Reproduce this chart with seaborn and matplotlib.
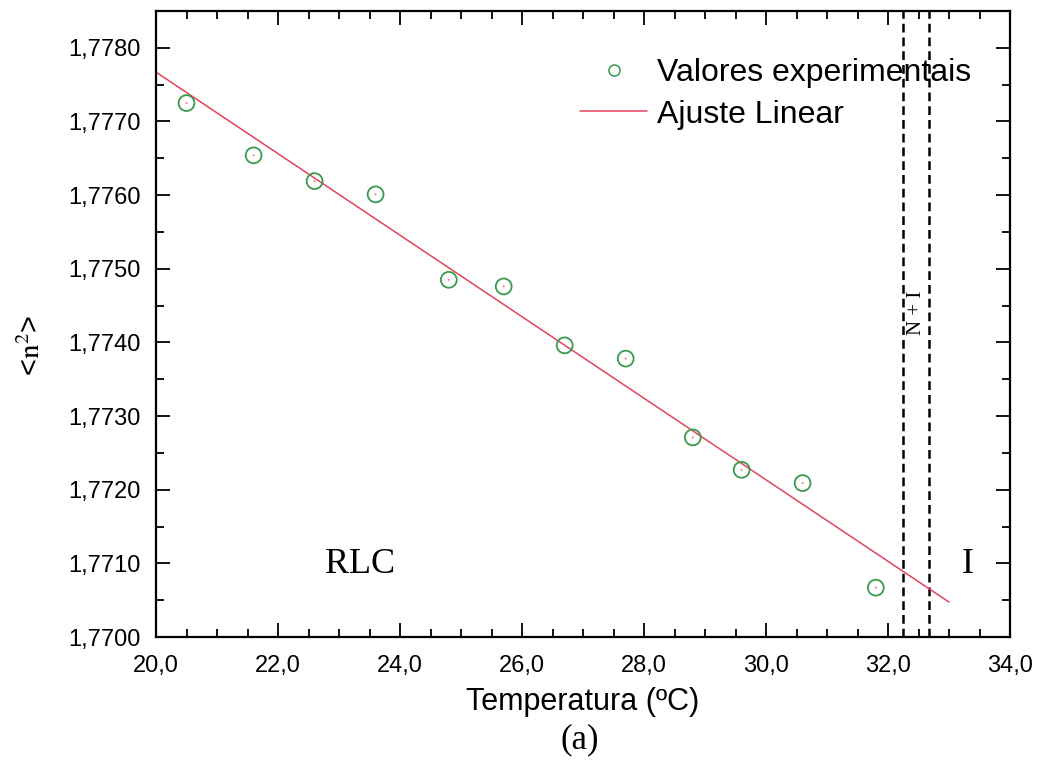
import numpy as np
import pandas as pd
import matplotlib
matplotlib.use("Agg")
import matplotlib.pyplot as plt
from matplotlib.ticker import FuncFormatter, MultipleLocator
from matplotlib.lines import Line2D
import seaborn as sns

# Measured mean squared refractive index vs temperature
temperatura = [20.5, 21.6, 22.6, 23.6, 24.8, 25.7, 26.7, 27.7, 28.8, 29.6, 30.6, 31.8]
n2_medio = [1.77725, 1.77654, 1.77619, 1.77601, 1.77485, 1.77476,
            1.77396, 1.77378, 1.77271, 1.77227, 1.77209, 1.77067]

# Phase-transition boundaries (N + I coexistence region)
transicoes = [32.25, 32.67]
ajuste_intervalo = [20.0, 33.0]

x_ticks = [20.0, 22.0, 24.0, 26.0, 28.0, 30.0, 32.0, 34.0]
y_ticks = [1.7700, 1.7710, 1.7720, 1.7730, 1.7740, 1.7750, 1.7760, 1.7770, 1.7780]

sns.set_style("ticks")
plt.rcParams["font.family"] = ["Liberation Sans", "DejaVu Sans"]
plt.rcParams["mathtext.fontset"] = "stix"
plt.rcParams["text.color"] = "black"
plt.rcParams["axes.labelcolor"] = "black"
plt.rcParams["xtick.color"] = "black"
plt.rcParams["ytick.color"] = "black"

df = pd.DataFrame({"T": temperatura, "n2": n2_medio})

# Linear fit of the experimental values
coef = np.polyfit(df["T"], df["n2"], 1)
x_fit = np.array(ajuste_intervalo)
fit_df = pd.DataFrame({"T": x_fit, "n2": np.polyval(coef, x_fit)})

fig = plt.figure(figsize=(10.4, 7.61), dpi=100)
ax = fig.add_axes([156 / 1040, 1 - 637 / 761, (1010 - 156) / 1040, (637 - 11) / 761])

verde = "#3a9a4e"
vermelho = "#e2445c"

sns.lineplot(data=fit_df, x="T", y="n2", ax=ax, color=vermelho, linewidth=1.1, zorder=2)
sns.scatterplot(data=df, x="T", y="n2", ax=ax, marker="o", s=130,
                facecolors="none", edgecolor=verde, linewidth=1.3, zorder=3)
sns.scatterplot(data=df, x="T", y="n2", ax=ax, marker="o", s=2,
                color="#e07a8a", edgecolor="none", zorder=4)

for xv in transicoes:
    ax.axvline(xv, color="black", linestyle=(0, (3.5, 2.0)), linewidth=1.8, zorder=1)

ax.set_xlim(20, 34)
ax.set_ylim(1.7700, 1.7785)
ax.set_xticks(x_ticks)
ax.set_yticks(y_ticks)
ax.xaxis.set_minor_locator(MultipleLocator(0.5))
ax.yaxis.set_minor_locator(MultipleLocator(0.0005))
ax.xaxis.set_major_formatter(FuncFormatter(lambda v, p: f"{v:.1f}".replace(".", ",")))
ax.yaxis.set_major_formatter(FuncFormatter(lambda v, p: f"{v:.4f}".replace(".", ",")))

ax.tick_params(which="both", direction="in", top=True, right=True, width=1.3, colors="black")
ax.tick_params(which="major", length=10, labelsize=17, pad=11)
ax.tick_params(which="minor", length=6)
ax.tick_params(axis="x", which="major", pad=13)
for s in ax.spines.values():
    s.set_linewidth(1.6)
    s.set_color("black")

ax.set_xlabel("")
ax.set_ylabel("")
fig.text(583 / 1040, 1 - 702 / 761, "Temperatura (ºC)", fontsize=22, ha="center", va="center")
fig.text(580 / 1040, 1 - 740 / 761, "(a)", fontsize=25, ha="center", va="center",
         family="Liberation Serif")
fig.text(32 / 1040, 1 - 345 / 761, r"<$\mathrm{n}^{2}$>", fontsize=21, rotation=90,
         ha="center", va="center")

serif = "Liberation Serif"
ax.text(23.35, 1.77098, "RLC", family=serif, fontsize=26, ha="center", va="center")
ax.text(33.3, 1.77098, "I", family=serif, fontsize=26, ha="center", va="center")
ax.text(sum(transicoes) / 2, 1.77440, "N + I",
        family=serif, fontsize=15, rotation=90, ha="center", va="center")

handles = [
    Line2D([], [], linestyle="none", marker="o", markersize=8, markerfacecolor="none",
           markeredgecolor=verde, markeredgewidth=1.1),
    Line2D([], [], color=vermelho, linewidth=1.1),
]
ax.legend(handles, ["Valores experimentais", "Ajuste Linear"], loc="upper left",
          bbox_to_anchor=(580 / 1040, 1 - 58 / 761), bbox_transform=fig.transFigure,
          frameon=False, fontsize=23, handlelength=2.1, handletextpad=0.3,
          borderpad=0, borderaxespad=0, labelspacing=0.36)

fig.savefig("out.png", dpi=100)
